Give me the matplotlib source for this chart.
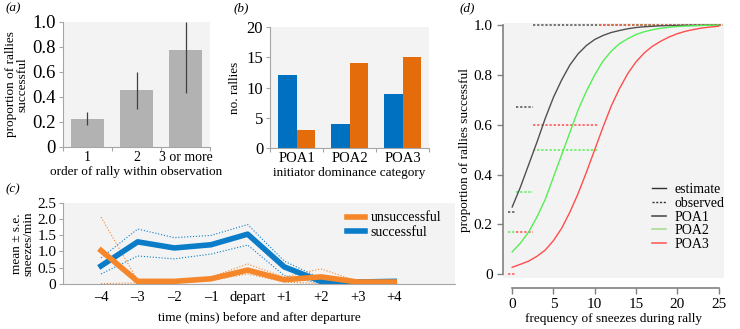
import numpy as np
import matplotlib.pyplot as plt

plt.rcParams["font.family"] = ["Liberation Serif", "DejaVu Serif"]
plt.rcParams["font.size"] = 9.5

# (a) proportion successful by rally order
order_labels = ["1", "2", "3 or more"]
order_prop = [0.22, 0.45, 0.77]
order_lo = [0.17, 0.30, 0.43]
order_hi = [0.28, 0.60, 1.00]

# (b) rallies by initiator dominance
poa_labels = ["POA1", "POA2", "POA3"]
n_success = [12, 4, 9]
n_fail = [3, 14, 15]

# (c) sneezes per minute around departure
time_labels = ["\u20134", "\u20133", "\u20132", "\u20131", "depart", "+1", "+2", "+3", "+4"]
succ_mean = [0.55, 1.30, 1.11, 1.21, 1.54, 0.52, 0.07, 0.05, 0.07]
succ_hi = [0.80, 1.70, 1.43, 1.50, 1.84, 0.70, 0.16, 0.06, 0.08]
succ_lo = [0.30, 0.86, 0.77, 0.92, 1.20, 0.25, 0.00, 0.04, 0.06]
fail_mean = [1.03, 0.07, 0.07, 0.15, 0.42, 0.12, 0.21, 0.05, 0.05]
fail_hi = [2.07, 0.10, 0.10, 0.20, 0.61, 0.20, 0.46, 0.07, 0.06]
fail_lo = [0.00, 0.02, 0.02, 0.10, 0.30, 0.05, 0.00, 0.03, 0.04]

# (d) estimated vs observed proportion successful
freq = list(range(26))
est_poa1 = [0.27, 0.35, 0.44, 0.53, 0.625, 0.71, 0.78, 0.84, 0.885, 0.918, 0.942, 0.958, 0.970,
            0.978, 0.985, 0.990, 0.993, 0.995, 0.997, 0.998, 0.998, 0.999, 0.999, 0.999, 0.999, 0.999]
est_poa2 = [0.09, 0.125, 0.17, 0.23, 0.30, 0.39, 0.48, 0.57, 0.66, 0.735, 0.80, 0.855, 0.895,
            0.925, 0.945, 0.962, 0.973, 0.981, 0.987, 0.991, 0.994, 0.996, 0.997, 0.998, 0.999, 0.999]
est_poa3 = [0.028, 0.04, 0.053, 0.072, 0.097, 0.135, 0.185, 0.25, 0.325, 0.41, 0.50, 0.59, 0.675,
            0.745, 0.805, 0.852, 0.888, 0.915, 0.935, 0.952, 0.965, 0.975, 0.982, 0.988, 0.992, 0.995]
obs_edges = [-0.5, 0.5, 2.5, 10.5, 25.5]
obs_poa1 = [0.25, 0.67, 1.0, 1.0]
obs_poa2 = [0.17, 0.33, 0.5, 1.0]
obs_poa3 = [0.0, 0.17, 0.6, 1.0]

BG = "#f3f3f3"
SPINE = "#a6a6a6"


def excel_axes(ax):
    ax.set_facecolor(BG)
    for s in ["top", "right"]:
        ax.spines[s].set_visible(False)
    for s in ["left", "bottom"]:
        ax.spines[s].set_color(SPINE)
        ax.spines[s].set_linewidth(0.8)
    ax.tick_params(colors=SPINE, labelcolor="black", length=3, width=0.8)


fig = plt.figure(figsize=(7.4, 3.29), dpi=100)

# ---- (a)
ax = fig.add_axes([0.085, 0.554, 0.199, 0.380])
excel_axes(ax)
x = np.arange(len(order_labels))
ax.bar(x, order_prop, width=0.68, color="#b2b2b2")
ax.vlines(x, order_lo, order_hi, color="#404040", lw=0.9)
ax.set_xlim(-0.5, 2.5)
ax.set_ylim(0, 1.0)
ax.set_yticks([0, 0.2, 0.4, 0.6, 0.8, 1.0])
ax.set_yticklabels(["0", "0.2", "0.4", "0.6", "0.8", "1.0"], fontsize=13.5)
ax.tick_params(axis="y", pad=2)
ax.set_xticks([-0.5, 0.5, 1.5, 2.5])
ax.set_xticklabels([])
ax.set_xticks(x, minor=True)
ax.set_xticklabels(order_labels, minor=True, fontsize=10)
ax.tick_params(axis="x", which="minor", length=0)
ax.set_xlabel("order of rally within observation", labelpad=1)
ax.set_ylabel("proportion of rallies\nsuccessful", linespacing=0.9, labelpad=3)
fig.text(0.007, 0.965, "(a)", style="italic", fontsize=9.5)

# ---- (b)
ax = fig.add_axes([0.365, 0.551, 0.215, 0.366])
excel_axes(ax)
x = np.arange(len(poa_labels))
w = 0.35
ax.bar(x - w / 2, n_success, width=w, color="#0070c0")
ax.bar(x + w / 2, n_fail, width=w, color="#e46c0a")
ax.set_xlim(-0.5, 2.5)
ax.set_ylim(0, 20)
ax.set_yticks([0, 5, 10, 15, 20])
ax.set_yticklabels(["0", "5", "10", "15", "20"], fontsize=12)
ax.tick_params(axis="y", pad=2)
ax.set_xticks([-0.5, 0.5, 1.5, 2.5])
ax.set_xticklabels([])
ax.set_xticks(x, minor=True)
ax.set_xticklabels(poa_labels, minor=True, fontsize=10.5)
ax.tick_params(axis="x", which="minor", length=0)
ax.set_xlabel("initiator dominance category", labelpad=1)
ax.set_ylabel("no. rallies", labelpad=4)
fig.text(0.315, 0.965, "(b)", style="italic", fontsize=9.5)

# ---- (c)
ax = fig.add_axes([0.0855, 0.138, 0.529, 0.244])
excel_axes(ax)
x = np.arange(len(time_labels))
blue = "#0a7cc8"
orange = "#f5862a"
ax.plot(x, succ_hi, color=blue, lw=0.8, ls=":")
ax.plot(x, succ_lo, color=blue, lw=0.8, ls=":")
ax.plot(x, fail_hi, color=orange, lw=0.8, ls=":")
ax.plot(x, fail_lo, color=orange, lw=0.8, ls=":")
ax.plot(x, succ_mean, color=blue, lw=4, solid_joinstyle="round", label="successful")
ax.plot(x, fail_mean, color=orange, lw=4, solid_joinstyle="round", label="unsuccessful")
ax.set_xlim(-1.03, 9.65)
ax.set_ylim(0, 2.5)
ax.set_yticks([0, 0.5, 1.0, 1.5, 2.0, 2.5])
ax.set_yticklabels(["0", "0.5", "1.0", "1.5", "2.0", "2.5"], fontsize=11)
ax.tick_params(axis="y", pad=2)
ax.set_xticks(x)
ax.set_xticklabels(time_labels, fontsize=10.5)
ax.tick_params(axis="x", length=0, pad=5)
ax.set_xlabel("time (mins) before and after departure", labelpad=6)
ax.set_ylabel("mean \u00b1 s.e.\nsneezes/min", linespacing=0.9, labelpad=2)
h, l = ax.get_legend_handles_labels()
ax.legend(h[::-1], l[::-1], loc="upper left", bbox_to_anchor=(0.70, 1.02), frameon=False,
          fontsize=10, handlelength=1.3, handletextpad=0.4, labelspacing=0.1, borderpad=0.2)
fig.text(0.007, 0.415, "(c)", style="italic", fontsize=9.5)

# ---- (d)
ax = fig.add_axes([0.680, 0.155, 0.298, 0.775])
ax.set_facecolor(BG)
for s in ["top", "right"]:
    ax.spines[s].set_visible(False)
for s in ["left", "bottom"]:
    ax.spines[s].set_color("#808080")
    ax.spines[s].set_linewidth(1.2)
ax.spines["bottom"].set_position(("outward", 7))
ax.spines["bottom"].set_bounds(0, 25)
ax.spines["left"].set_bounds(0, 1)
ax.tick_params(colors="#808080", labelcolor="black", length=4, width=1, labelsize=11)

c1, c2, c3 = "#505050", "#55ee55", "#ff4d4d"
for obs, c in [(obs_poa1, c1), (obs_poa2, c2), (obs_poa3, c3)]:
    ax.hlines(obs, obs_edges[:-1], obs_edges[1:], colors=c, lw=1.1, linestyles=(0, (1.5, 1.2)))
ax.plot(freq, est_poa1, color=c1, lw=1)
ax.plot(freq, est_poa2, color=c2, lw=1)
ax.plot(freq, est_poa3, color=c3, lw=1)
ax.set_xlim(-1.09, 25.63)
ax.set_ylim(-0.015, 1.008)
ax.set_xticks([0, 5, 10, 15, 20, 25])
ax.set_yticks([0, 0.2, 0.4, 0.6, 0.8, 1.0])
ax.set_yticklabels(["0", "0.2", "0.4", "0.6", "0.8", "1.0"])
ax.set_xlabel("frequency of sneezes during rally", labelpad=1)
ax.set_ylabel("proportion of rallies successful", labelpad=2)
handles = [
    plt.Line2D([], [], color="#303030", lw=1),
    plt.Line2D([], [], color="#303030", lw=1, ls=(0, (1.5, 1.2))),
    plt.Line2D([], [], color=c1, lw=1.2),
    plt.Line2D([], [], color="#a8dc98", lw=1.2),
    plt.Line2D([], [], color="#ff6060", lw=1.2),
]
ax.legend(handles, ["estimate", "observed", "POA1", "POA2", "POA3"], loc="upper left",
          bbox_to_anchor=(0.63, 0.41), frameon=False, fontsize=10, handlelength=1.0,
          handletextpad=0.6, labelspacing=0.05, borderpad=0.2)
fig.text(0.621, 0.965, "(d)", style="italic", fontsize=9.5)

fig.savefig("out.png", dpi=100)
